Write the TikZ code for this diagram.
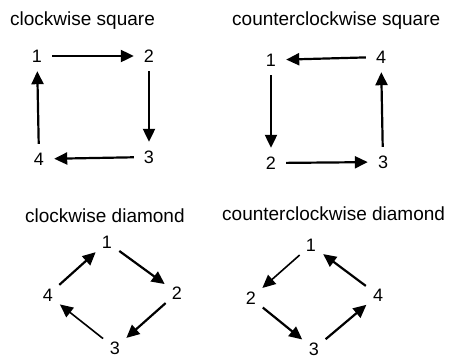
\documentclass[tikz,border=0pt]{standalone}
\usepackage{fontspec}
\setmainfont{Liberation Sans}
\usetikzlibrary{arrows.meta}
\begin{document}
\begin{tikzpicture}[x=1pt,y=-1pt,
  title/.style={anchor=base west,inner sep=0,font=\fontsize{19}{22}\selectfont},
  num/.style={circle,minimum size=30pt,inner sep=0,font=\fontsize{18}{20}\selectfont},
  arr/.style={line width=2.2pt,-{Triangle[length=13pt,width=12pt]}},
  thin arr/.style={line width=1.6pt,-{Triangle[length=13pt,width=12pt]}}]
\useasboundingbox[fill=white] (0,0) rectangle (452,360);
% titles
\node[title] (t1) at (10,25) {clockwise square};
\node[title] (t2) at (232,25) {counterclockwise square};
\node[title] (t3) at (25,222) {clockwise diamond};
\node[title] (t4) at (222,220) {counterclockwise diamond};
% clockwise square
\node[num] (a1) at (37,56) {1};
\node[num] (a2) at (149,56) {2};
\node[num] (a3) at (149,157) {3};
\node[num] (a4) at (39,159) {4};
\draw[arr] (a1) -- (a2);
\draw[arr] (a2) -- (a3);
\draw[arr] (a3) -- (a4);
\draw[arr] (a4) -- (a1);
% counterclockwise square
\node[num] (b1) at (271,60) {1};
\node[num] (b4) at (381,57) {4};
\node[num] (b2) at (271,163) {2};
\node[num] (b3) at (383,162) {3};
\draw[arr] (b4) -- (b1);
\draw[arr] (b1) -- (b2);
\draw[arr] (b2) -- (b3);
\draw[arr] (b3) -- (b4);
% clockwise diamond
\node[num] (c1) at (107,242) {1};
\node[num] (c2) at (177,293) {2};
\node[num] (c3) at (115,348) {3};
\node[num] (c4) at (48,295) {4};
\draw[arr] (c1) -- (c2);
\draw[arr] (c2) -- (c3);
\draw[thin arr] (c3) -- (c4);
\draw[arr] (c4) -- (c1);
% counterclockwise diamond
\node[num] (d1) at (311,245) {1};
\node[num] (d2) at (251,298) {2};
\node[num] (d3) at (314,349) {3};
\node[num] (d4) at (378,295) {4};
\draw[thin arr] (d1) -- (d2);
\draw[arr] (d2) -- (d3);
\draw[arr] (d3) -- (d4);
\draw[arr] (d4) -- (d1);
\end{tikzpicture}
\end{document}
